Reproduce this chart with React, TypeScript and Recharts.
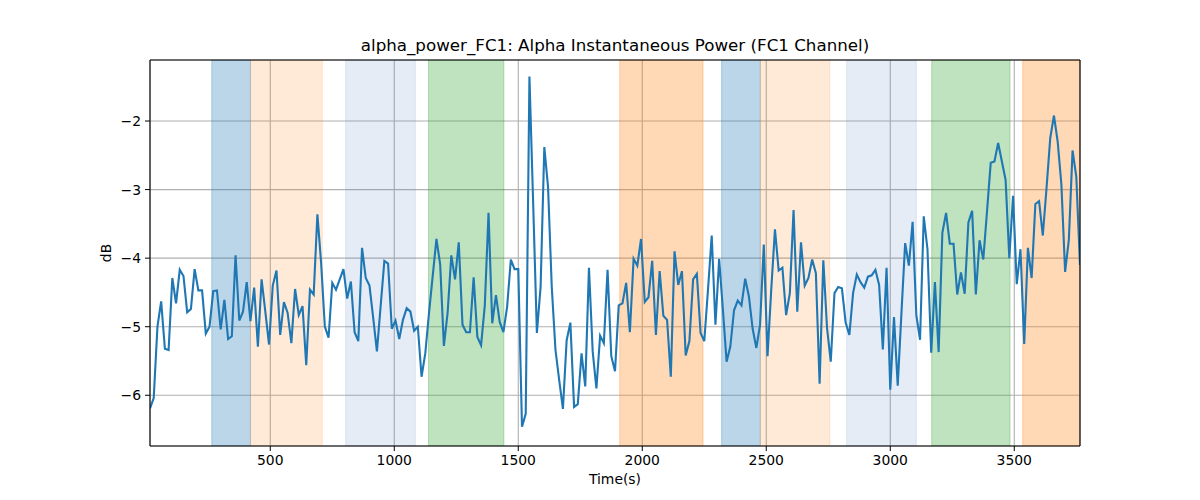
import {
  CartesianGrid,
  Line,
  LineChart,
  ReferenceArea,
  XAxis,
  YAxis,
} from 'recharts'

// sampling period of the power estimate (seconds)
const SAMPLE_PERIOD = 15

const alphaPower = [
  -6.19, -6.04, -5.0, -4.63, -5.32, -5.34, -4.29, -4.66, -4.17, -4.26,
  -4.79, -4.74, -4.16, -4.47, -4.47, -5.1, -5.0, -4.48, -4.47, -5.04,
  -4.61, -5.18, -5.14, -3.96, -4.91, -4.78, -4.35, -4.92, -4.43, -5.29,
  -4.31, -4.78, -5.26, -4.4, -4.18, -5.12, -4.64, -4.8, -5.24, -4.45,
  -4.83, -4.7, -5.56, -4.46, -4.53, -3.36, -4.07, -5.0, -5.16, -4.36,
  -4.46, -4.31, -4.16, -4.59, -4.34, -5.08, -5.21, -3.85, -4.29, -4.4,
  -4.87, -5.36, -4.7, -4.04, -4.08, -5.03, -4.91, -5.18, -4.9, -4.73,
  -4.78, -5.06, -5.0, -5.73, -5.39, -4.8, -4.26, -3.72, -4.09, -5.28,
  -4.8, -3.96, -4.31, -3.77, -4.97, -5.08, -5.08, -4.28, -5.15, -5.27,
  -4.69, -3.34, -4.95, -4.54, -4.93, -5.08, -4.71, -4.02, -4.16, -4.16,
  -6.46, -6.27, -1.35, -3.2, -5.09, -4.42, -2.38, -2.96, -4.42, -5.34,
  -5.78, -6.2, -5.2, -4.94, -6.17, -6.13, -5.39, -5.87, -4.14, -5.36,
  -5.9, -5.13, -5.24, -4.17, -5.43, -5.65, -4.69, -4.66, -4.36, -5.08,
  -4.01, -4.11, -3.72, -4.64, -4.57, -4.04, -5.12, -4.19, -4.84, -4.9,
  -5.73, -3.9, -4.39, -4.19, -5.42, -5.21, -4.31, -4.23, -5.09, -5.21,
  -4.46, -3.67, -4.97, -4.01, -4.75, -5.51, -5.29, -4.76, -4.62, -4.69,
  -4.3, -4.56, -5.03, -5.31, -4.97, -3.8, -5.43, -4.46, -3.58, -4.18,
  -4.14, -4.83, -4.51, -3.3, -4.78, -3.77, -4.4, -4.29, -4.02, -4.22,
  -5.83, -4.03, -5.02, -5.51, -4.51, -4.42, -4.44, -4.94, -5.12, -4.51,
  -4.24, -4.35, -4.43, -4.27, -4.25, -4.17, -4.39, -5.33, -4.14, -5.92,
  -4.86, -5.86, -4.8, -3.78, -4.11, -3.47, -4.83, -5.19, -3.39, -3.87,
  -5.38, -4.35, -5.37, -3.63, -3.34, -3.79, -3.79, -4.53, -4.21, -4.52,
  -3.48, -3.31, -4.53, -3.74, -4.02, -3.32, -2.61, -2.59, -2.32, -2.59,
  -2.86, -4.0, -3.09, -4.38, -3.87, -5.25, -3.85, -4.29, -3.21, -3.17,
  -3.67, -2.98, -2.25, -1.92, -2.3, -2.93, -4.2, -3.73, -2.43, -2.81,
  -4.1,
]

// shaded task segments (seconds)
const bandStart = [264, 420, 804, 1138, 1909, 2320, 2476, 2824, 3167, 3534]
const bandEnd = [420, 710, 1085, 1442, 2245, 2476, 2756, 3105, 3483, 3765]
const bandKind = [
  'blue', 'peach', 'sky', 'green', 'orange',
  'blue', 'peach', 'sky', 'green', 'orange',
]

const xTicks = [500, 1000, 1500, 2000, 2500, 3000, 3500]
const yTicks = [-6, -5, -4, -3, -2]

const X_DOMAIN: [number, number] = [15, 3765]
const Y_DOMAIN: [number, number] = [-6.74, -1.11]

const bandStyle: Record<string, { color: string; opacity: number }> = {
  blue: { color: '#1f77b4', opacity: 0.3 },
  peach: { color: '#ff7f0e', opacity: 0.16 },
  sky: { color: '#5080c3', opacity: 0.15 },
  green: { color: '#2ca02c', opacity: 0.3 },
  orange: { color: '#ff7f0e', opacity: 0.3 },
}

const data = alphaPower.map((v, i) => ({ t: (i + 1) * SAMPLE_PERIOD, v }))

const font = "'DejaVu Sans', sans-serif"
const tickStyle = { fill: '#000', fontSize: 13.9, fontFamily: font }
const minus = (v: number) => String(v).replace('-', '\u2212')
const spine = { stroke: '#000', strokeWidth: 1.1 }

export default function App() {
  return (
    <div
      style={{
        position: 'absolute',
        left: 0,
        top: 0,
        width: 1200,
        height: 500,
        background: '#fff',
        fontFamily: font,
      }}
    >
      <div
        style={{
          position: 'absolute',
          left: 150,
          top: 37,
          width: 930,
          textAlign: 'center',
          fontSize: 16.7,
          lineHeight: 1,
          color: '#000',
        }}
      >
        alpha_power_FC1: Alpha Instantaneous Power (FC1 Channel)
      </div>
      <LineChart
        width={1200}
        height={500}
        data={data}
        margin={{ top: 59, right: 119, bottom: 0, left: 90 }}
      >
        <CartesianGrid stroke="#b0b0b0" strokeWidth={1.1} />
        {bandStart.map((s, i) => {
          const st = bandStyle[bandKind[i]]
          return (
            <ReferenceArea
              key={i}
              x1={s}
              x2={bandEnd[i]}
              fill={st.color}
              fillOpacity={st.opacity}
              stroke={st.color}
              strokeOpacity={st.opacity}
              ifOverflow="hidden"
            />
          )
        })}
        <XAxis
          dataKey="t"
          type="number"
          domain={X_DOMAIN}
          ticks={xTicks}
          allowDataOverflow
          height={54}
          tick={tickStyle}
          tickSize={5}
          tickMargin={4}
          tickLine={{ stroke: '#000' }}
          axisLine={spine}
        />
        <XAxis
          xAxisId="top"
          orientation="top"
          type="number"
          domain={X_DOMAIN}
          allowDataOverflow
          height={1}
          tick={false}
          tickLine={false}
          axisLine={spine}
        />
        <YAxis
          type="number"
          domain={Y_DOMAIN}
          ticks={yTicks}
          allowDataOverflow
          width={60}
          tick={tickStyle}
          tickFormatter={minus}
          tickSize={5}
          tickMargin={4}
          tickLine={{ stroke: '#000' }}
          axisLine={spine}
        />
        <YAxis
          yAxisId="right"
          orientation="right"
          type="number"
          domain={Y_DOMAIN}
          allowDataOverflow
          width={1}
          tick={false}
          tickLine={false}
          axisLine={spine}
        />
        <Line
          type="linear"
          dataKey="v"
          stroke="#1f77b4"
          strokeWidth={2.1}
          dot={false}
          isAnimationActive={false}
        />
      </LineChart>
      <div
        style={{
          position: 'absolute',
          left: 150,
          top: 473,
          width: 930,
          textAlign: 'center',
          fontSize: 13.9,
          lineHeight: 1,
          color: '#000',
        }}
      >
        Time(s)
      </div>
      <div
        style={{
          position: 'absolute',
          left: 107,
          top: 253,
          fontSize: 13.9,
          lineHeight: 1,
          color: '#000',
          transform: 'translate(-50%, -50%) rotate(-90deg)',
        }}
      >
        dB
      </div>
    </div>
  )
}
